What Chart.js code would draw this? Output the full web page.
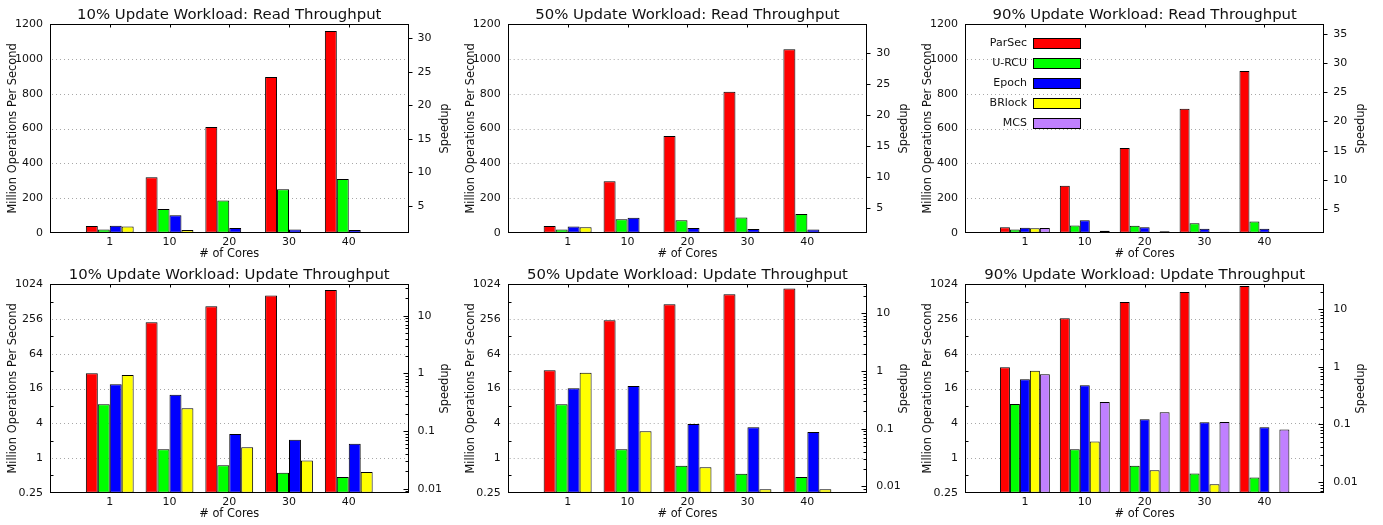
<!DOCTYPE html>
<html>
<head>
<meta charset="utf-8">
<script src="https://cdn.jsdelivr.net/npm/chart.js@4.4.1/dist/chart.umd.min.js"></script>
<style>
  body { margin: 0; background: #fff; }
  #wrap { position: relative; width: 1383px; height: 525px; overflow: hidden; }
  #wrap canvas { position: absolute; }
</style>
</head>
<body>
<div id="wrap"></div>
<script>
// categories and series
const cores = ['1', '10', '20', '30', '40'];
const seriesNames = ['ParSec', 'U-RCU', 'Epoch', 'BRlock', 'MCS'];
const seriesColors = ['#ff0000', '#00ff00', '#0000ff', '#ffff00', '#c080ff'];

// read throughput, million ops/s
const r10ParSec = [38, 319, 609, 897, 1162];
const r10URCU = [19, 136, 186, 250, 309];
const r10Epoch = [40, 100, 27, 19, 15];
const r10BRlock = [35, 15, 1, 1, 1];

const r50ParSec = [38, 296, 557, 812, 1056];
const r50URCU = [19, 77, 71, 88, 107];
const r50Epoch = [35, 86, 27, 21, 19];
const r50BRlock = [31, 1, 1, 1, 1];

const r90ParSec = [31, 271, 488, 714, 931];
const r90URCU = [19, 42, 40, 54, 65];
const r90Epoch = [29, 71, 31, 23, 23];
const r90BRlock = [25, 0, 0, 0, 0];
const r90MCS = [27, 11, 8, 6, 4];

// update throughput, million ops/s (log scale)
const u10ParSec = [29.3, 225, 425, 652, 817];
const u10URCU = [8.5, 1.41, 0.745, 0.556, 0.467];
const u10Epoch = [18.9, 12.5, 2.6, 2.07, 1.77];
const u10BRlock = [27.4, 7.25, 1.53, 0.9, 0.57];

const u50ParSec = [33.1, 243, 461, 687, 862];
const u50URCU = [8.5, 1.41, 0.735, 0.534, 0.47];
const u50Epoch = [16.1, 17.7, 3.88, 3.4, 2.82];
const u50BRlock = [30.1, 2.9, 0.69, 0.286, 0.286];

const u90ParSec = [37.3, 264, 506, 754, 959];
const u90URCU = [8.6, 1.41, 0.735, 0.54, 0.46];
const u90Epoch = [23.1, 18.2, 4.7, 4.15, 3.4];
const u90BRlock = [32.6, 1.92, 0.61, 0.35, null];
const u90MCS = [28.2, 9.3, 6.2, 4.2, 3.13];

// axis ticks
const readTicks = [0, 200, 400, 600, 800, 1000, 1200];
const readSpeedupTicks = [5, 10, 15, 20, 25, 30, 35];
const readSpeedupMax = [32.1, 34.7, 36.6];        // right axis runs 1 .. max
const updateTicks = [0.25, 0.5, 1, 2, 4, 8, 16, 32, 64, 128, 256, 512, 1024];
const updateLabelled = [0.25, 1, 4, 16, 64, 256, 1024];
const updateSpeedupBase = [29.3, 32.1, 38.2];     // speedup = ops / base

// layout of the 2x3 grid
const colLeft = [0, 460, 920];
const colWidth = [460, 460, 463];
const plotLeft = [50, 507.7, 965];
const plotRight = [408.5, 867.3, 1324.3];
const rowTop = [0, 260];
const rowHeight = [260, 265];
const plotTop = [24.3, 284.3];
const plotBottom = [232.7, 492.7];

const FONT = 'DejaVu Sans';
Chart.defaults.font.family = FONT;
Chart.defaults.font.size = 11;
Chart.defaults.color = '#111';

const panels = [
  { row: 0, col: 0, title: '10% Update Workload: Read Throughput', series: [r10ParSec, r10URCU, r10Epoch, r10BRlock] },
  { row: 0, col: 1, title: '50% Update Workload: Read Throughput', series: [r50ParSec, r50URCU, r50Epoch, r50BRlock] },
  { row: 0, col: 2, title: '90% Update Workload: Read Throughput', series: [r90ParSec, r90URCU, r90Epoch, r90BRlock, r90MCS], legend: true },
  { row: 1, col: 0, title: '10% Update Workload: Update Throughput', series: [u10ParSec, u10URCU, u10Epoch, u10BRlock] },
  { row: 1, col: 1, title: '50% Update Workload: Update Throughput', series: [u50ParSec, u50URCU, u50Epoch, u50BRlock] },
  { row: 1, col: 2, title: '90% Update Workload: Update Throughput', series: [u90ParSec, u90URCU, u90Epoch, u90BRlock, u90MCS] }
];

function logTicks(min, max) {
  const out = [];
  for (let k = -4; k <= 3; k++) {
    for (let d = 1; d <= 9; d++) {
      const v = parseFloat(d + 'e' + k);
      if (v >= min && v <= max) out.push(v);
    }
  }
  return out;
}

// gnuplot-like frame, dotted grid, tick marks and texts
const gpPlugin = {
  id: 'gp',
  beforeDatasetsDraw(chart, args, opts) {
    const { ctx, chartArea: a } = chart;
    const y = chart.scales.y;
    ctx.save();
    ctx.strokeStyle = '#a8a8a8';
    ctx.lineWidth = 1;
    ctx.setLineDash([1, 3]);
    opts.gridAt.forEach(v => {
      const py = Math.round(y.getPixelForValue(v)) + 0.5;
      ctx.beginPath();
      ctx.moveTo(a.left + 2, py);
      ctx.lineTo(a.right - 2, py);
      ctx.stroke();
    });
    ctx.restore();
  },
  afterDatasetsDraw(chart, args, opts) {
    const { ctx, chartArea: a, scales } = chart;
    const L = Math.round(a.left) + 0.5, R = Math.round(a.right) - 0.5;
    const T = Math.round(a.top) + 0.5, B = Math.round(a.bottom) - 0.5;
    ctx.save();
    ctx.strokeStyle = '#000';
    ctx.lineWidth = 1;
    ctx.beginPath();
    // mirrored x tics on top border
    for (let i = 1; i <= cores.length; i++) {
      const px = Math.round(scales.x.getPixelForValue(i)) + 0.5;
      ctx.moveTo(px, T);
      ctx.lineTo(px, T + 3);
    }
    // left minor tics
    scales.y.ticks.forEach(t => {
      if (t.label !== '') return;
      const py = Math.round(scales.y.getPixelForValue(t.value)) + 0.5;
      ctx.moveTo(L, py);
      ctx.lineTo(L + 3, py);
    });
    // right axis tics
    scales.y2.ticks.forEach(t => {
      const py = Math.round(scales.y2.getPixelForValue(t.value)) + 0.5;
      if (opts.log) {
        const len = t.label === '' ? 3 : 5;
        ctx.moveTo(R, py);
        ctx.lineTo(R - len, py);
      } else {
        ctx.moveTo(R, py);
        ctx.lineTo(R + 4, py);
      }
    });
    ctx.stroke();
    ctx.strokeRect(L, T, R - L, B - T);
    ctx.restore();
  },
  afterDraw(chart, args, opts) {
    const { ctx, chartArea: a } = chart;
    const cx = (a.left + a.right) / 2, cy = (a.top + a.bottom) / 2;
    ctx.save();
    ctx.fillStyle = '#111';
    ctx.textAlign = 'center';
    ctx.textBaseline = 'middle';
    ctx.font = '14.9px "' + FONT + '"';
    ctx.fillText(opts.title, cx, a.top - 9);
    ctx.font = '11.4px "' + FONT + '"';
    ctx.fillText('# of Cores', cx, a.bottom + 21);
    ctx.save();
    ctx.translate(a.left - 37, cy);
    ctx.rotate(-Math.PI / 2);
    ctx.fillText('Million Operations Per Second', 0, 0);
    ctx.restore();
    ctx.save();
    ctx.translate(a.right + 37, cy);
    ctx.rotate(-Math.PI / 2);
    ctx.fillText('Speedup', 0, 0);
    ctx.restore();
    if (opts.legend) {
      ctx.font = '11px "' + FONT + '"';
      ctx.textAlign = 'right';
      chart.data.datasets.forEach((ds, i) => {
        const yy = Math.round(a.top + 18.5 + 20 * i);
        ctx.fillStyle = '#111';
        ctx.fillText(ds.label, a.left + 62, yy);
        ctx.fillStyle = ds.backgroundColor;
        ctx.fillRect(a.left + 68, yy - 5, 47, 10);
        ctx.strokeStyle = '#000';
        ctx.strokeRect(Math.round(a.left + 68) + 0.5, yy - 4.5, 47, 10);
      });
    }
    ctx.restore();
  }
};

const wrap = document.getElementById('wrap');

panels.forEach(p => {
  const canvas = document.createElement('canvas');
  canvas.width = colWidth[p.col];
  canvas.height = rowHeight[p.row];
  canvas.style.left = colLeft[p.col] + 'px';
  canvas.style.top = rowTop[p.row] + 'px';
  wrap.appendChild(canvas);

  const n = p.series.length;
  const isLog = p.row === 1;
  const leftW = plotLeft[p.col] - colLeft[p.col];
  const rightW = colLeft[p.col] + colWidth[p.col] - plotRight[p.col];
  const bottomH = rowTop[p.row] + rowHeight[p.row] - plotBottom[p.row];

  const datasets = p.series.map((vals, i) => ({
    label: seriesNames[i],
    data: [null, ...vals, null],
    backgroundColor: seriesColors[i],
    borderColor: '#000',
    borderWidth: 1,
    borderSkipped: false,
    categoryPercentage: n / (n + 1),
    barPercentage: 1,
    yAxisID: 'y'
  }));

  let yScale, y2Scale, gridAt;
  if (isLog) {
    const base = updateSpeedupBase[p.col];
    const sMin = updateTicks[0] / base, sMax = updateTicks[updateTicks.length - 1] / base;
    yScale = {
      type: 'logarithmic', position: 'left', min: 0.25, max: 1024,
      afterBuildTicks: s => { s.ticks = updateTicks.map(v => ({ value: v })); },
      ticks: { autoSkip: false, padding: 7, callback: v => updateLabelled.includes(v) ? String(v) : '' }
    };
    y2Scale = {
      type: 'logarithmic', position: 'right', min: sMin, max: sMax,
      afterBuildTicks: s => { s.ticks = logTicks(sMin, sMax).map(v => ({ value: v })); },
      ticks: { autoSkip: false, padding: 9, callback: v => [0.01, 0.1, 1, 10, 100].includes(v) ? String(v) : '' }
    };
    gridAt = updateLabelled.slice(1, -1);
  } else {
    const sMax = readSpeedupMax[p.col];
    yScale = {
      type: 'linear', position: 'left', min: 0, max: 1200,
      afterBuildTicks: s => { s.ticks = readTicks.map(v => ({ value: v })); },
      ticks: { autoSkip: false, padding: 7, callback: v => String(v) }
    };
    y2Scale = {
      type: 'linear', position: 'right', min: 1, max: sMax,
      afterBuildTicks: s => { s.ticks = readSpeedupTicks.filter(v => v <= sMax).map(v => ({ value: v })); },
      ticks: { autoSkip: false, padding: 9, callback: v => String(v) }
    };
    gridAt = readTicks.slice(1, -1);
  }
  [yScale, y2Scale].forEach(s => {
    s.grid = { display: false, drawTicks: false };
    s.border = { display: false };
  });
  yScale.afterFit = s => { s.width = leftW; };
  y2Scale.afterFit = s => { s.width = rightW; };

  new Chart(canvas, {
    type: 'bar',
    data: { labels: ['', ...cores, ''], datasets },
    options: {
      responsive: false,
      animation: false,
      layout: { padding: { top: plotTop[p.row] - rowTop[p.row], left: 0, right: 0, bottom: 0 } },
      scales: {
        x: {
          type: 'category', offset: false,
          grid: { display: false, drawTicks: false },
          border: { display: false },
          ticks: { autoSkip: false, maxRotation: 0, padding: 3 },
          afterFit: s => { s.height = bottomH; }
        },
        y: yScale,
        y2: y2Scale
      },
      plugins: {
        legend: { display: false },
        tooltip: { enabled: false },
        gp: { title: p.title, legend: !!p.legend, log: isLog, gridAt }
      }
    },
    plugins: [gpPlugin]
  });
});
</script>
</body>
</html>
